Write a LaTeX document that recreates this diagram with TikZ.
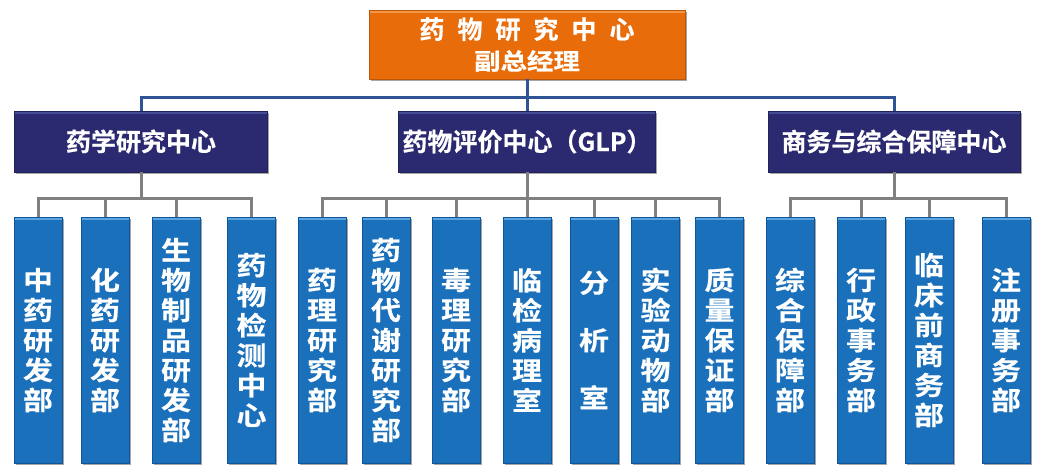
\documentclass[tikz,border=0pt]{standalone}
\usepackage{fontspec}
\newfontfamily\cjkb{Noto Sans CJK SC Bold}[FakeBold=0.5]
\newfontfamily\cjkbw{Noto Sans CJK SC Bold}[FakeStretch=1.15,FakeBold=0.5]
\usetikzlibrary{shadows}
\definecolor{orangebox}{RGB}{232,108,10}
\definecolor{orangehl}{RGB}{245,150,70}
\definecolor{navybox}{RGB}{43,42,112}
\definecolor{navyhl}{RGB}{70,75,150}
\definecolor{bluebox}{RGB}{26,112,186}
\definecolor{bluehl}{RGB}{90,165,225}
\definecolor{blueedge}{RGB}{18,85,150}
\definecolor{topline}{RGB}{47,84,150}
\definecolor{grayline}{RGB}{128,128,128}
\tikzset{
  boxshadow/.style={drop shadow={shadow xshift=1.5pt,shadow yshift=-1.5pt,opacity=0.35,fill=black}},
  topbox/.style={fill=orangebox,draw=orangebox!80!black,line width=0.6pt,boxshadow,
    minimum width=316pt,minimum height=69pt,inner sep=0pt,align=center,text=white,
    font=\cjkb\fontsize{25}{31}\selectfont,
    path picture={\fill[orangehl] (path picture bounding box.north west) rectangle ([yshift=-2.5pt]path picture bounding box.north east);}},
  midbox/.style={fill=navybox,draw=navybox!80!black,line width=0.6pt,boxshadow,
    minimum height=61pt,inner sep=0pt,align=center,text=white,
    font=\cjkb\fontsize{25}{30}\selectfont,
    path picture={\fill[navyhl] (path picture bounding box.north west) rectangle ([yshift=-2.5pt]path picture bounding box.north east);}},
  botbox/.style={fill=bluebox,draw=blueedge,line width=0.8pt,boxshadow,
    minimum width=48pt,minimum height=246pt,inner sep=0pt,align=center,text=white,
    font=\cjkbw\fontsize{26}{30}\selectfont,
    path picture={\fill[bluehl] (path picture bounding box.north west) rectangle ([yshift=-3pt]path picture bounding box.north east);}},
  bluelink/.style={draw=topline,line width=3pt},
  graylink/.style={draw=grayline,line width=3pt},
}
\begin{document}
\begin{tikzpicture}[x=1pt,y=-1pt]
\useasboundingbox[fill=white] (0,0) rectangle (1054,475);
% top
\node[topbox] (top) at (527,44.5) {药\hspace{13pt}物\hspace{13pt}研\hspace{13pt}究\hspace{13pt}中\hspace{13pt}心\\{\cjkbw\fontsize{23}{31}\selectfont 副总经理}};
% middle
\node[midbox,minimum width=253pt] (m1) at (141,141.5) {药学研究中心};
\node[midbox,minimum width=257pt] (m2) at (527,141.5) {药物评价中心（GLP）};
\node[midbox,minimum width=252pt] (m3) at (894,141.5) {商务与综合保障中心};
% bottom
\node[botbox] (b1) at (38,340) {中\\药\\研\\发\\部};
\node[botbox] (b2) at (105,340) {化\\药\\研\\发\\部};
\node[botbox] (b3) at (176,340) {生\\物\\制\\品\\研\\发\\部};
\node[botbox] (b4) at (251.5,340) {药\\物\\检\\测\\中\\心};
\node[botbox] (b5) at (322,340) {药\\理\\研\\究\\部};
\node[botbox] (b6) at (386,340) {药\\物\\代\\谢\\研\\究\\部};
\node[botbox] (b7) at (456,340) {毒\\理\\研\\究\\部};
\node[botbox] (b8) at (527,340) {临\\检\\病\\理\\室};
\node[botbox] (b9) at (594,340) {分\\[27.5pt]析\\[27.5pt]室};
\node[botbox] (b10) at (655.5,340) {实\\验\\动\\物\\部};
\node[botbox] (b11) at (719.5,340) {质\\量\\保\\证\\部};
\node[botbox] (b12) at (790,340) {综\\合\\保\\障\\部};
\node[botbox] (b13) at (861,340) {行\\政\\事\\务\\部};
\node[botbox] (b14) at (929,340) {临\\床\\前\\商\\务\\部};
\node[botbox] (b15) at (1006,340) {注\\册\\事\\务\\部};
% bus coordinates
\coordinate (hb) at (0,97);
\coordinate (gb) at (0,198);
% top links
\draw[bluelink] (top.south) -- (m2.north);
\draw[bluelink] (m1.north) -- (m1.north |- hb) -- (m3.north |- hb) -- (m3.north);
% group links
\draw[graylink] (m1.south) -- (m1.south |- gb);
\draw[graylink] (b1.north) -- (b1.north |- gb) -- (b4.north |- gb) -- (b4.north);
\foreach \b in {b2,b3} \draw[graylink] (\b.north) -- (\b.north |- gb);
\draw[graylink] (m2.south) -- (b8.north);
\draw[graylink] (b5.north) -- (b5.north |- gb) -- (b11.north |- gb) -- (b11.north);
\foreach \b in {b6,b7,b9,b10} \draw[graylink] (\b.north) -- (\b.north |- gb);
\draw[graylink] (m3.south) -- (m3.south |- gb);
\draw[graylink] (b12.north) -- (b12.north |- gb) -- (b15.north |- gb) -- (b15.north);
\foreach \b in {b13,b14} \draw[graylink] (\b.north) -- (\b.north |- gb);
\end{tikzpicture}
\end{document}
